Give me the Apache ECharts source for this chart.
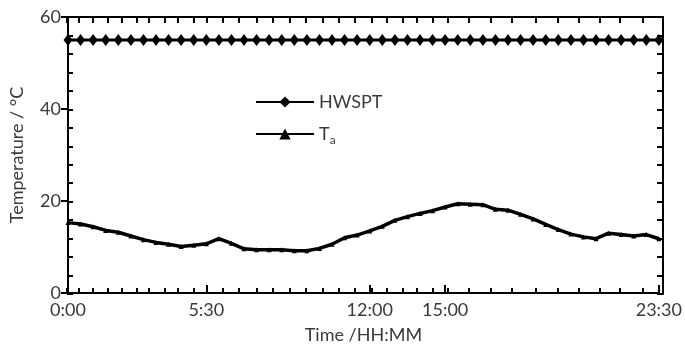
<!DOCTYPE html>
<html>
<head>
<meta charset="utf-8">
<script src="https://cdn.jsdelivr.net/npm/echarts@6/dist/echarts.min.js"></script>
<style>html,body{margin:0;padding:0;background:#fff}#c{width:685px;height:349px}</style>
</head>
<body>
<div id="c"></div>
<script>
var times = ['0:00','0:30','1:00','1:30','2:00','2:30','3:00','3:30','4:00','4:30','5:00','5:30',
  '6:00','6:30','7:00','7:30','8:00','8:30','9:00','9:30','10:00','10:30','11:00','11:30',
  '12:00','12:30','13:00','13:30','14:00','14:30','15:00','15:30','16:00','16:30','17:00','17:30',
  '18:00','18:30','19:00','19:30','20:00','20:30','21:00','21:30','22:00','22:30','23:00','23:30'];
var hwspt = [55,55,55,55,55,55,55,55,55,55,55,55,55,55,55,55,55,55,55,55,55,55,55,55,
  55,55,55,55,55,55,55,55,55,55,55,55,55,55,55,55,55,55,55,55,55,55,55,55];
var ta = [15.3,15.0,14.4,13.6,13.2,12.4,11.6,11.0,10.6,10.1,10.4,10.7,
  11.8,10.8,9.6,9.4,9.4,9.4,9.2,9.2,9.7,10.6,12.0,12.6,
  13.5,14.5,15.8,16.6,17.3,17.9,18.7,19.4,19.3,19.2,18.2,18.0,
  17.1,16.1,14.9,13.8,12.8,12.2,11.8,13.0,12.7,12.4,12.7,11.8];
var xTickLabels = ['0:00','5:30','12:00','15:00','23:30'];
var xMinorTicks = [0,28,62,97,130,164,194,232,263,299,330,368,406,448,486,526,565,605,643,680,
  720,757,794,828,865,900,951,1003,1053,1108,1160,1210,1260,1307,1363,1410];
var yTickLabels = [0,20,40,60];
var yMinorStep = 4;

function toMin(s){var p=s.split(':');return (+p[0])*60+(+p[1]);}
var majorMins = xTickLabels.map(toMin);
var hwData = times.map(function(t,i){return [toMin(t), hwspt[i]];});
var taData = times.map(function(t,i){return [toMin(t), ta[i]];});

var FONT = 'Lato';
var TXT = '#3a3a3a';
var FS = 18;
var chart = echarts.init(document.getElementById('c'));
chart.setOption({
  animation:false,
  grid:[
    {left:67, right:22, top:17, bottom:55},
    {left:67, right:22, top:17, bottom:55}
  ],
  legend:{
    orient:'vertical', left:250, top:88, itemWidth:58, itemHeight:14, itemGap:14,
    textStyle:{fontFamily:FONT, fontSize:FS, color:TXT,
      rich:{t:{fontFamily:FONT,fontSize:FS,color:TXT},sub:{fontFamily:FONT,fontSize:12,color:TXT,padding:[12,0,0,0]}}},
    formatter:function(n){return n==='Ta' ? '{t|T}{sub|a}' : n;},
    data:['HWSPT','Ta']
  },
  xAxis:[
    {gridIndex:0, type:'value', min:0, max:1410, position:'bottom', splitLine:{show:false},
      name:'Time /HH:MM', nameLocation:'middle', nameGap:33,
      nameTextStyle:{fontFamily:FONT, fontSize:FS, color:TXT},
      axisLine:{show:true, onZero:false, lineStyle:{color:'#000', width:2}},
      axisTick:{show:true, inside:true, length:8, customValues:majorMins, lineStyle:{color:'#000', width:2}},
      axisLabel:{show:true, customValues:majorMins, margin:8, fontFamily:FONT, fontSize:FS, color:TXT,
        formatter:function(v){var i=majorMins.indexOf(v);return i>=0?xTickLabels[i]:'';}}},
    {gridIndex:1, type:'value', min:0, max:1410, position:'bottom', splitLine:{show:false},
      axisLine:{show:false, onZero:false},
      axisTick:{show:true, inside:true, length:6, customValues:xMinorTicks, lineStyle:{color:'#000', width:2}},
      axisLabel:{show:false}},
    {gridIndex:1, type:'value', min:0, max:1410, position:'top', splitLine:{show:false},
      axisLine:{show:true, onZero:false, lineStyle:{color:'#000', width:2}},
      axisTick:{show:true, inside:true, length:6, customValues:xMinorTicks, lineStyle:{color:'#000', width:2}},
      axisLabel:{show:false}}
  ],
  yAxis:[
    {gridIndex:0, type:'value', min:0, max:60, interval:20, position:'left',
      name:'Temperature / °C', nameLocation:'middle', nameGap:42,
      nameTextStyle:{fontFamily:FONT, fontSize:FS, color:TXT},
      axisLine:{show:true, onZero:false, lineStyle:{color:'#000', width:2}},
      axisTick:{show:true, inside:false, length:7, lineStyle:{color:'#000', width:2}},
      axisLabel:{customValues:yTickLabels, margin:7, fontFamily:FONT, fontSize:FS, color:TXT},
      splitLine:{show:false}},
    {gridIndex:1, type:'value', min:0, max:60, interval:yMinorStep, position:'left', splitLine:{show:false},
      axisLine:{show:false, onZero:false}, axisLabel:{show:false},
      axisTick:{show:true, inside:true, length:6, lineStyle:{color:'#000', width:2}}},
    {gridIndex:1, type:'value', min:0, max:60, interval:yMinorStep, position:'right', splitLine:{show:false},
      axisLine:{show:true, onZero:false, lineStyle:{color:'#000', width:2}}, axisLabel:{show:false},
      axisTick:{show:true, inside:true, length:6, lineStyle:{color:'#000', width:2}}}
  ],
  series:[
    {name:'HWSPT', type:'line', xAxisIndex:0, yAxisIndex:0, data:hwData,
      symbol:'diamond', symbolSize:[9,12], showSymbol:true,
      lineStyle:{color:'#000', width:3}, itemStyle:{color:'#000', borderWidth:0}},
    {name:'Ta', type:'line', xAxisIndex:0, yAxisIndex:0, data:taData,
      symbol:'triangle', symbolSize:5, showSymbol:true,
      lineStyle:{color:'#000', width:3.5}, itemStyle:{color:'#000', borderWidth:0}}
  ]
});
</script>
</body>
</html>
